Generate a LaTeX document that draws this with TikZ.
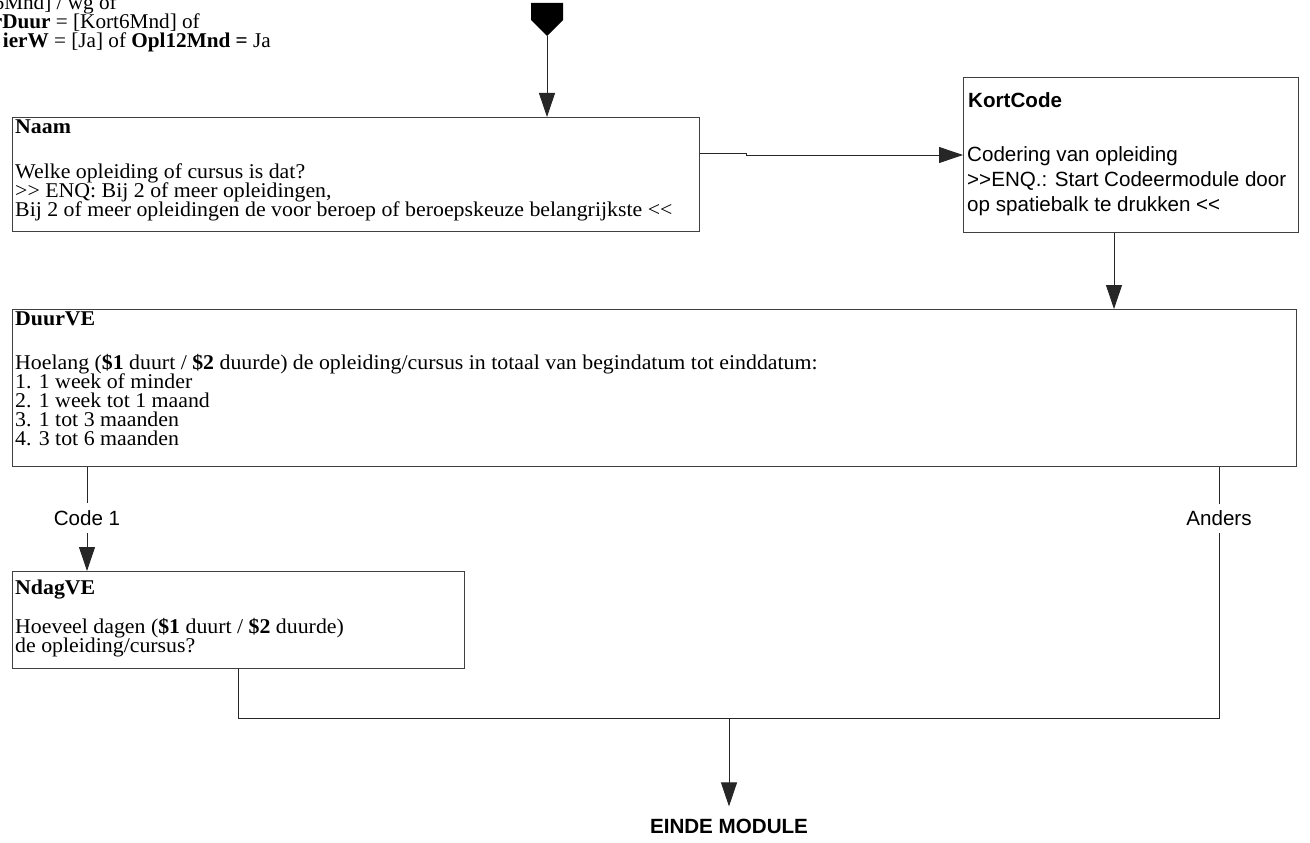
\documentclass[tikz,border=0pt]{standalone}
\usepackage{fontspec}
\usetikzlibrary{arrows.meta,calc}
\newfontfamily\timesf[FakeStretch=1.04]{Liberation Serif}
\newfontfamily\timesn[FakeStretch=1.01]{Liberation Serif}
\newfontfamily\arialf{Liberation Sans}
\begin{document}
\begin{tikzpicture}[x=1pt,y=-1pt,
  serif/.style={font=\timesf\fontsize{21}{19}\selectfont, inner sep=0pt, anchor=base west},
  cond/.style={font=\timesn\fontsize{21}{19}\selectfont, inner sep=0pt, anchor=base east},
  sans/.style={font=\arialf\fontsize{20.6}{25}\selectfont, inner sep=0pt, anchor=base west},
  qbox/.style={draw=black!75, line width=0.9pt, rectangle, inner sep=0pt, anchor=north west},
  conn/.style={draw=black!85, line width=0.9pt},
  arr/.style={conn, -{Triangle[length=24pt,width=16pt]}},
  lbl/.style={font=\arialf\fontsize{20.6}{25}\selectfont, fill=white, inner xsep=2pt, inner ysep=7pt, anchor=base},
]
\useasboundingbox (0,0) rectangle (1310,843);
\fill[white] (0,0) rectangle (1310,843);

% top-left clipped condition text
\node[cond] (cond1) at (117,10) {6Mnd] / wg of};
\node[cond] (cond2) at (200,29) {\textbf{rDuur} = [Kort6Mnd] of};
\node[cond] (cond3) at (271,48) {\textbf{ierW} = [Ja] of \textbf{Opl12Mnd =} Ja};

% start symbol
\fill[black] (531,3) -- (563,3) -- (563,20) -- (547,36) -- (531,20) -- cycle;
\coordinate (start) at (547,36);

% boxes
\node[qbox, minimum width=687pt, minimum height=114pt] (naam) at (12,117) {};
\node[qbox, minimum width=335pt, minimum height=155pt] (kortcode) at (963,77) {};
\node[qbox, minimum width=1284pt, minimum height=157pt] (duurve) at (12,309) {};
\node[qbox, minimum width=452pt, minimum height=97pt] (ndagve) at (12,571) {};

% Naam text
\node[serif] (naamt) at (15,133) {\textbf{Naam}};
\node[serif] (naam1) at (15,178) {Welke opleiding of cursus is dat?};
\node[serif] (naam2) at (15,197) {>> ENQ: Bij 2 of meer opleidingen,};
\node[serif] (naam3) at (15,216) {Bij 2 of meer opleidingen de voor beroep of beroepskeuze belangrijkste <<};

% KortCode text
\node[sans] (kortt) at (968,107) {\textbf{KortCode}};
\node[sans] (kort1) at (967,161) {Codering van opleiding};
\node[sans] (kort2) at (967,186) {>>ENQ.: Start Codeermodule door};
\node[sans] (kort3) at (967,211) {op spatiebalk te drukken <<};

% DuurVE text
\node[serif] (duurt) at (15,325) {\textbf{DuurVE}};
\node[serif] (duur1) at (15,369) {Hoelang (\textbf{\$1} duurt / \textbf{\$2} duurde) de opleiding/cursus in totaal van begindatum tot einddatum:};
\node[serif] (duur2) at (15,388) {1. 1 week of minder};
\node[serif] (duur3) at (15,407) {2. 1 week tot 1 maand};
\node[serif] (duur4) at (15,426) {3. 1 tot 3 maanden};
\node[serif] (duur5) at (15,445) {4. 3 tot 6 maanden};

% NdagVE text
\node[serif] (ndagt) at (15,594) {\textbf{NdagVE}};
\node[serif] (ndag1) at (15,633) {Hoeveel dagen (\textbf{\$1} duurt / \textbf{\$2} duurde)};
\node[serif] (ndag2) at (15,652) {de opleiding/cursus?};

% end
\node[font=\arialf\bfseries\fontsize{20.6}{25}\selectfont, inner xsep=0pt, inner ysep=12pt, anchor=base] (einde) at (729,833) {EINDE MODULE};

% connectors
\draw[arr] (start) -- (start |- naam.north);
\coordinate (kin) at ($(kortcode.north west)+(0,78)$);
\draw[arr] ($(naam.north east)+(0,36)$) -- ++(47,0) |- (kin);
\coordinate (kout) at ($(kortcode.south west)+(151,0)$);
\draw[arr] (kout) -- (kout |- duurve.north);

\coordinate (d1) at ($(duurve.south west)+(75,0)$);
\draw[arr] (d1) -- (d1 |- ndagve.north) node[lbl, pos=0.562] (code1) {Code 1};

\coordinate (d2) at ($(duurve.south west)+(1207,0)$);
\coordinate (m2) at ($(d2)+(0,252)$);
\coordinate (m1) at (ndagve.south |- m2);
\coordinate (m0) at (einde.north |- m2);
\draw[conn] (d2) -- (m2) node[lbl, pos=0.234] (anders) {Anders};
\draw[conn] (ndagve.south) -- (m1) -- (m2);
\draw[arr] (m0) -- (einde.north);
\end{tikzpicture}
\end{document}
